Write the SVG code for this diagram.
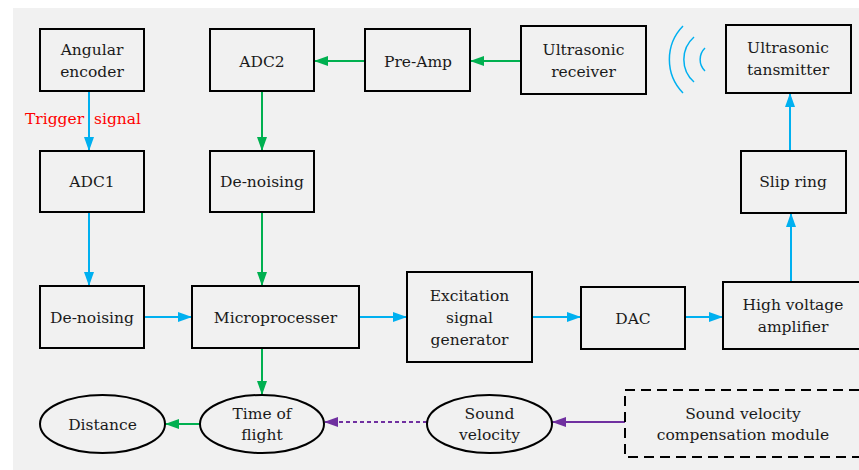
<svg xmlns="http://www.w3.org/2000/svg" width="859" height="470" viewBox="0 0 859 470">
<defs>
<style>
.box{fill:none;stroke:#000;stroke-width:2}
.ell{fill:none;stroke:#000;stroke-width:2}
.t{font-family:'DejaVu Serif','Liberation Serif',serif;font-size:15.5px;fill:#1a1a1a;text-anchor:middle}
.b{stroke:#00b0f0;stroke-width:2;fill:none}
.g{stroke:#00b050;stroke-width:2;fill:none}
.p{stroke:#7030a0;stroke-width:2;fill:none}
</style>
<marker id="ab" viewBox="0 0 14 10" refX="14" refY="5" markerWidth="14" markerHeight="10" markerUnits="userSpaceOnUse" orient="auto"><path d="M0,0 L14,5 L0,10 Z" fill="#00b0f0"/></marker>
<marker id="ag" viewBox="0 0 14 10" refX="14" refY="5" markerWidth="14" markerHeight="10" markerUnits="userSpaceOnUse" orient="auto"><path d="M0,0 L14,5 L0,10 Z" fill="#00b050"/></marker>
<marker id="ap" viewBox="0 0 14 10" refX="14" refY="5" markerWidth="14" markerHeight="10" markerUnits="userSpaceOnUse" orient="auto"><path d="M0,0 L14,5 L0,10 Z" fill="#7030a0"/></marker>
</defs>
<rect x="0" y="0" width="859" height="470" fill="#fff"/>
<rect x="13" y="8" width="846" height="462" fill="#f1f1f1"/>

<g id="connectors">
<line class="b" x1="89" y1="91" x2="89" y2="151" marker-end="url(#ab)"/>
<line class="b" x1="89" y1="212" x2="89" y2="286" marker-end="url(#ab)"/>
<line class="g" x1="262" y1="91" x2="262" y2="151" marker-end="url(#ag)"/>
<line class="g" x1="262" y1="212" x2="262" y2="286" marker-end="url(#ag)"/>
<line class="g" x1="365" y1="61" x2="314" y2="61" marker-end="url(#ag)"/>
<line class="g" x1="521" y1="61" x2="470" y2="61" marker-end="url(#ag)"/>
<line class="b" x1="144" y1="317" x2="192" y2="317" marker-end="url(#ab)"/>
<line class="b" x1="359" y1="317" x2="407" y2="317" marker-end="url(#ab)"/>
<line class="b" x1="532" y1="317" x2="581" y2="317" marker-end="url(#ab)"/>
<line class="b" x1="685" y1="317" x2="723" y2="317" marker-end="url(#ab)"/>
<line class="b" x1="791" y1="282" x2="791" y2="213" marker-end="url(#ab)"/>
<line class="b" x1="790" y1="151" x2="790" y2="93" marker-end="url(#ab)"/>
<line class="g" x1="262" y1="348" x2="262" y2="395" marker-end="url(#ag)"/>
<line class="g" x1="200" y1="424" x2="165" y2="424" marker-end="url(#ag)"/>
<line class="p" x1="427" y1="422" x2="324" y2="422" stroke-dasharray="4,3" marker-end="url(#ap)"/>
<line class="p" x1="625" y1="422" x2="552" y2="422" marker-end="url(#ap)"/>
<text x="83" y="124" class="t" style="fill:#ff0000" xml:space="preserve">Trigger  signal</text>
</g>

<g id="waves" fill="none" stroke="#00b0f0" stroke-width="1.5">
<path d="M683,26 A48,48 0 0 0 683,93"/>
<path d="M694,37 A30,30 0 0 0 694,82"/>
<path d="M705,48 A16,16 0 0 0 705,71"/>
</g>

<g id="angular-encoder"><rect class="box" x="40" y="29" width="104" height="62"/><text class="t" x="92" y="55">Angular</text><text class="t" x="92" y="77">encoder</text></g>
<g id="adc1"><rect class="box" x="40" y="151" width="104" height="61"/><text class="t" x="92" y="187">ADC1</text></g>
<g id="denoising1"><rect class="box" x="40" y="286" width="104" height="62"/><text class="t" x="92" y="323">De-noising</text></g>
<g id="adc2"><rect class="box" x="210" y="29" width="104" height="62"/><text class="t" x="262" y="67">ADC2</text></g>
<g id="denoising2"><rect class="box" x="210" y="151" width="104" height="61"/><text class="t" x="262" y="187">De-noising</text></g>
<g id="preamp"><rect class="box" x="365" y="29" width="105" height="62"/><text class="t" x="418" y="67">Pre-Amp</text></g>
<g id="receiver"><rect class="box" x="521" y="26" width="125" height="68"/><text class="t" x="583.5" y="55">Ultrasonic</text><text class="t" x="583.5" y="77">receiver</text></g>
<g id="transmitter"><rect class="box" x="726" y="25" width="125" height="68"/><text class="t" x="788" y="53">Ultrasonic</text><text class="t" x="788" y="75">tansmitter</text></g>
<g id="slipring"><rect class="box" x="741" y="151" width="105" height="62"/><text class="t" x="793" y="187">Slip ring</text></g>
<g id="microprocessor"><rect class="box" x="192" y="286" width="167" height="62"/><text class="t" x="275.5" y="323">Microprocesser</text></g>
<g id="excitation"><rect class="box" x="407" y="272" width="125" height="90"/><text class="t" x="469.5" y="301">Excitation</text><text class="t" x="469.5" y="323">signal</text><text class="t" x="469.5" y="345">generator</text></g>
<g id="dac"><rect class="box" x="581" y="287" width="104" height="62"/><text class="t" x="633" y="324">DAC</text></g>
<g id="hv-amplifier"><rect class="box" x="723" y="282" width="145" height="67"/><text class="t" x="793" y="310">High voltage</text><text class="t" x="793" y="332">amplifier</text></g>
<g id="distance"><ellipse class="ell" cx="102.5" cy="424" rx="62.5" ry="29"/><text class="t" x="102.5" y="430">Distance</text></g>
<g id="time-of-flight"><ellipse class="ell" cx="262" cy="424" rx="62" ry="29"/><text class="t" x="262" y="419">Time of</text><text class="t" x="262" y="440">flight</text></g>
<g id="sound-velocity"><ellipse class="ell" cx="489.5" cy="424" rx="62.5" ry="29"/><text class="t" x="489.5" y="419">Sound</text><text class="t" x="489.5" y="440">velocity</text></g>
<g id="compensation"><rect class="box" x="625" y="390" width="245" height="67" stroke-dasharray="10,6"/><text class="t" x="743" y="419">Sound velocity</text><text class="t" x="743" y="440">compensation module</text></g>
</svg>
